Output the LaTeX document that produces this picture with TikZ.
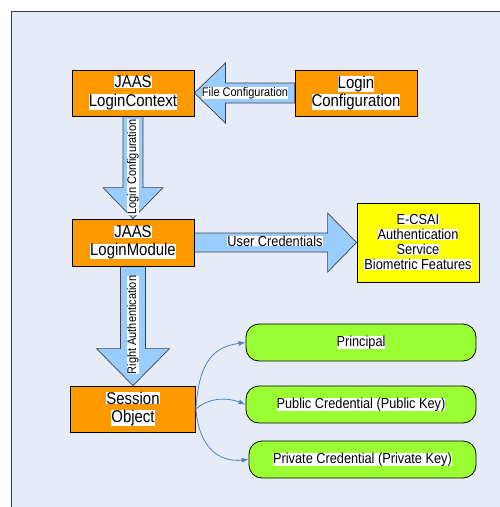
\documentclass[tikz,border=0pt]{standalone}
\usepackage{fontspec}
\setmainfont{Liberation Sans}[FakeStretch=0.88]
\usetikzlibrary{calc,arrows.meta}

\definecolor{panel}{HTML}{E6ECF7}
\definecolor{boxorange}{HTML}{FF9900}
\definecolor{boxyellow}{HTML}{FFFF00}
\definecolor{boxgreen}{HTML}{99FF33}
\definecolor{arrowblue}{HTML}{99CCFF}
\definecolor{linkblue}{HTML}{4F81BD}
\definecolor{edgegray}{HTML}{404040}

% white highlight behind each line of text
\newcommand\hl[1]{\begingroup\setlength{\fboxsep}{0pt}\colorbox{white}{#1}\endgroup}

\pgfdeclarelayer{back}
\pgfdeclarelayer{mid}
\pgfsetlayers{back,mid,main}

\begin{document}
\begin{tikzpicture}[x=1pt,y=-1pt,
  orangebox/.style={draw=black,line width=0.8pt,fill=boxorange,minimum width=122pt,
    minimum height=46pt,inner sep=0pt,align=center,font=\fontsize{17}{18.5}\selectfont},
  yellowbox/.style={draw=black,line width=0.8pt,fill=boxyellow,minimum width=122pt,
    minimum height=79pt,inner sep=0pt,align=center,font=\fontsize{14.5}{15}\selectfont},
  greenbox/.style={draw=black,line width=0.8pt,fill=boxgreen,rounded corners=13pt,
    minimum width=230pt,minimum height=37pt,inner sep=0pt,font=\fontsize{14.5}{16}\selectfont},
  blockarrow/.style={fill=arrowblue,draw=edgegray,line width=0.7pt,line join=miter},
  arrowlabel/.style={inner sep=0pt,font=\fontsize{12.5}{14}\selectfont},
  link/.style={draw=linkblue,line width=0.8pt,-{Latex[length=7pt,width=5pt]}}]

\clip (0,0) rectangle (499,507);
\useasboundingbox (0,0) rectangle (499,507);

% background panel
\begin{pgfonlayer}{back}
  \fill[white] (0,0) rectangle (499,507);
  \draw[fill=panel,draw=edgegray,line width=0.8pt] (11,11) rectangle (515,520);
\end{pgfonlayer}

% boxes
\node[orangebox] (lc) at (133,93) {\hl{JAAS}\\\hl{LoginContext}};
\node[orangebox] (cfg) at (356,93) {\hl{Login}\\\hl{Configuration}};
\node[orangebox,minimum height=47pt] (lm) at (133,242.5) {\hl{JAAS}\\\hl{LoginModule}};
\node[yellowbox] (ecsai) at (418,242.5)
  {\hl{E-CSAI}\\\hl{Authentication}\\\hl{Service}\\\hl{Biometric Features}};
\node[orangebox,minimum width=125pt] (so) at (133,409) {\hl{Session}\\\hl{Object}};

\node[greenbox] (pr) at (361,342.5) {\hl{Principal}};
\node[greenbox] (pub) at (361,404.5) {\hl{Public Credential (Public Key)}};
\node[greenbox,minimum width=227pt] (priv) at (362.5,459.5) {\hl{Private Credential (Private Key)}};

% block arrows
\begin{pgfonlayer}{mid}
  \draw[blockarrow] (lc.east) -- ($(lc.east)+(31,-30)$) -- ($(lc.east)+(31,-10)$)
    -- ($(cfg.west)+(0,-10)$) -- ($(cfg.west)+(0,10)$) -- ($(lc.east)+(31,10)$)
    -- ($(lc.east)+(31,30)$) -- cycle;
  \draw[blockarrow] (lm.north) -- ($(lm.north)+(-30,-31)$) -- ($(lm.north)+(-10,-31)$)
    -- ($(lc.south)+(-10,0)$) -- ($(lc.south)+(10,0)$) -- ($(lm.north)+(10,-31)$)
    -- ($(lm.north)+(30,-31)$) -- cycle;
  \draw[blockarrow] (ecsai.west) -- ($(ecsai.west)+(-29,-29.5)$) -- ($(ecsai.west)+(-29,-9.5)$)
    -- ($(lm.east)+(0,-9.5)$) -- ($(lm.east)+(0,9.5)$) -- ($(ecsai.west)+(-29,9.5)$)
    -- ($(ecsai.west)+(-29,29.5)$) -- cycle;
  \draw[blockarrow] (so.north) -- ($(so.north)+(-36.5,-37)$) -- ($(so.north)+(-12.5,-37)$)
    -- ($(lm.south)+(-12.5,0)$) -- ($(lm.south)+(12.5,0)$) -- ($(so.north)+(12.5,-37)$)
    -- ($(so.north)+(36.5,-37)$) -- cycle;
\end{pgfonlayer}

% arrow labels
\node[arrowlabel] (fc) at (245,93) {\hl{File Configuration}};
\node[arrowlabel,rotate=90] (lcfg) at (133,167) {\hl{Login Configuration}};
\node[arrowlabel,font=\fontsize{14.5}{16}\selectfont] (uc) at (275,241) {\hl{User Credentials}};
\node[arrowlabel,rotate=90] (ra) at (133,325) {\hl{Right Authentication}};

% session object contents
\draw[link] (so.east) .. controls ($(so.east)+(3,-50)$) and ($(pr.west)+(-30,4)$) .. (pr.west);
\draw[link] (so.east) .. controls ($(so.east)+(14,-12)$) and ($(pub.west)+(-18,-7)$) .. (pub.west);
\draw[link] (so.east) .. controls ($(so.east)+(3,38)$) and ($(priv.west)+(-30,3)$) .. (priv.west);

\end{tikzpicture}
\end{document}
